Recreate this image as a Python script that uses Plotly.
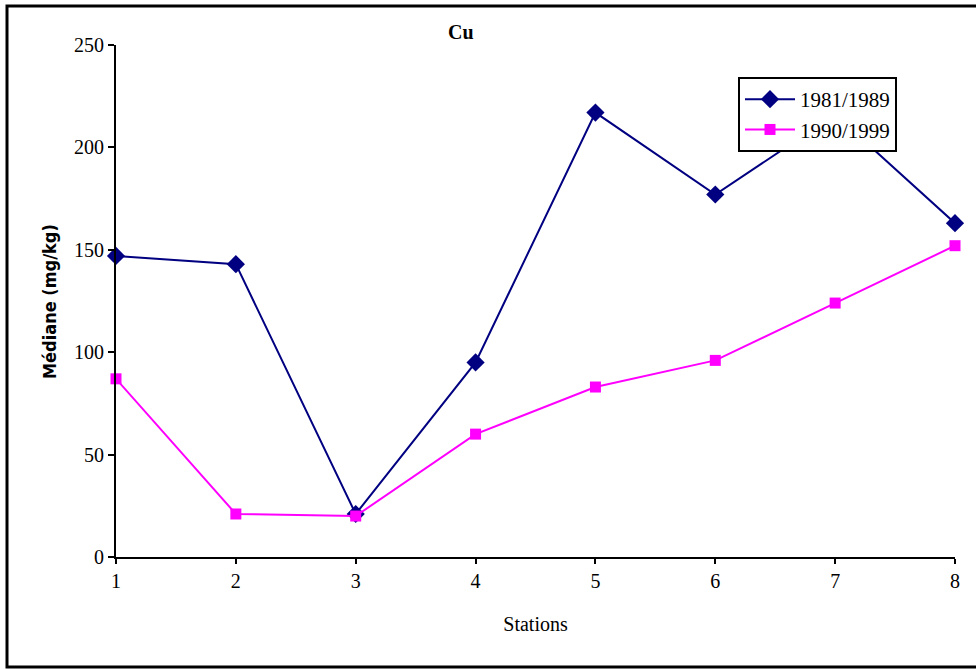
import plotly.graph_objects as go

stations = [1, 2, 3, 4, 5, 6, 7, 8]
median_1981_1989 = [147, 143, 21, 95, 217, 177, 216, 163]
median_1990_1999 = [87, 21, 20, 60, 83, 96, 124, 152]
y_ticks = [0, 50, 100, 150, 200, 250]

W, H = 976, 669
L, R, T, B = 116, 21, 45, 112
pw, ph = W - L - R, H - T - B

def px(x):
    return (x - L) / pw

def py(y):
    return (H - B - y) / ph

serif = "Liberation Serif, Times New Roman, serif"

fig = go.Figure()
fig.add_trace(go.Scatter(
    x=stations, y=median_1981_1989, name="1981/1989", mode="lines+markers",
    line=dict(color="#000080", width=2),
    marker=dict(symbol="diamond", size=14, color="#000080"),
    cliponaxis=False,
))
fig.add_trace(go.Scatter(
    x=stations, y=median_1990_1999, name="1990/1999", mode="lines+markers",
    line=dict(color="#FF00FF", width=2),
    marker=dict(symbol="square", size=11, color="#FF00FF"),
    cliponaxis=False,
))

fig.update_layout(
    width=W, height=H,
    margin=dict(l=L, r=R, t=T, b=B),
    paper_bgcolor="white", plot_bgcolor="white",
    font=dict(family=serif, size=20, color="black"),
    showlegend=True,
    legend=dict(
        x=px(738), y=py(77), xanchor="left", yanchor="top",
        bordercolor="black", borderwidth=2, bgcolor="white",
        font=dict(family=serif, size=21),
        tracegroupgap=0, itemwidth=50,
    ),
    xaxis=dict(
        range=[1, 8], tickvals=stations, showgrid=False, zeroline=False,
        showline=True, linecolor="black", linewidth=2,
        ticks="outside", ticklen=5, tickwidth=2, tickcolor="black",
        tickfont=dict(family=serif, size=20),
        title=dict(text="Stations", font=dict(family=serif, size=20), standoff=26),
    ),
    yaxis=dict(
        range=[0, 250], tickvals=y_ticks, showgrid=False, zeroline=False,
        showline=True, linecolor="black", linewidth=2,
        ticks="outside", ticklen=6, tickwidth=2, tickcolor="black",
        tickfont=dict(family=serif, size=20),
    ),
    annotations=[
        dict(text="<b>Cu</b>", x=px(461), y=py(32), xref="paper", yref="paper",
             xanchor="center", yanchor="middle",
             showarrow=False, font=dict(family=serif, size=20)),
        dict(text="<b>Médiane (mg/kg)</b>", x=px(49), y=py(302), xref="paper", yref="paper",
             xanchor="center", yanchor="middle",
             textangle=-90, showarrow=False,
             font=dict(family="DejaVu Sans Condensed, DejaVu Sans, sans-serif", size=18)),
    ],
    shapes=[
        dict(type="rect", xref="paper", yref="paper",
             x0=px(7), x1=px(990), y0=py(667), y1=py(6),
             line=dict(color="black", width=3), layer="below"),
    ],
)

fig.write_html("out.html")
